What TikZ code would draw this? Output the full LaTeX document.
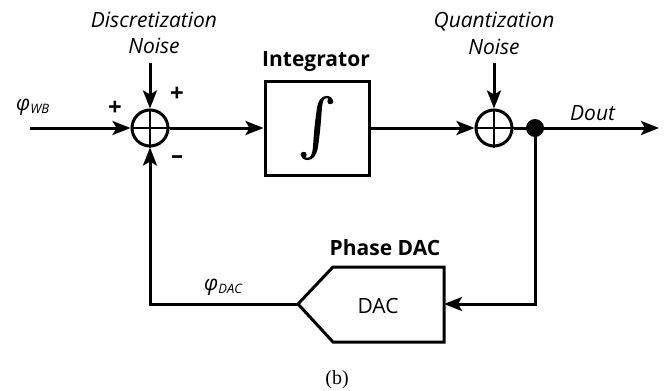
\documentclass[tikz,border=0pt]{standalone}
\usepackage{fontspec}
\setmainfont{Open Sans}
\newfontfamily\capfont{Liberation Serif}
\newfontfamily\intf{Latin Modern Math}[FakeBold=2]
\usetikzlibrary{arrows.meta}
\tikzset{
  sumc/.style={circle, draw, minimum size=36pt, inner sep=0pt, line width=3pt},
  conn/.style={line width=3pt},
  lbl/.style={font=\fontsize{21}{26}\selectfont\itshape},
  blbl/.style={font=\fontsize{21}{24}\selectfont\bfseries, inner sep=1pt},
  sgn/.style={font=\fontsize{24}{24}\selectfont\bfseries},
}
\begin{document}
\begin{tikzpicture}[x=1pt,y=-1pt, >={Stealth[length=18pt,width=14pt,inset=4pt]}]
\useasboundingbox (0,0) rectangle (667,391);
% summing junctions
\node[sumc] (s1) at (150,128) {};
\draw[line width=2.6pt] (s1.north) -- (s1.south) (s1.west) -- (s1.east);
\node[sumc] (s2) at (494,128) {};
\draw[line width=2.6pt] (s2.north) -- (s2.south) (s2.west) -- (s2.east);
% integrator
\node[draw, line width=3pt, minimum width=104pt, minimum height=94pt, inner sep=0pt] (int) at (317,128) {\resizebox*{!}{63pt}{\intf ∫}};
\node[blbl, anchor=base] (intl) at (316,66) {Integrator};
% dot
\node[circle, fill, minimum size=18pt, inner sep=0pt] (dot) at (535,128) {};
% DAC
\coordinate (dacR) at (444,304);
\coordinate (dacL) at (298,304);
\draw[line width=3pt, line join=miter] (444,267) -- (333,267) -- (dacL) -- (333,342) -- (444,342) -- cycle;
\node[font=\fontsize{21}{21}\selectfont, anchor=base] (dact) at (378,313) {DAC};
\node[blbl, anchor=base] (dacl) at (385,255) {Phase DAC};
% coordinates
\coordinate (in) at (30,128);
\coordinate (n1) at (150,63);
\coordinate (n2) at (494,63);
\coordinate (out) at (659,128);
% connectors
\draw[conn,->] (in) -- (s1.west);
\draw[conn,->] (n1) -- (s1.north);
\draw[conn,->] (s1.east) -- (int.west);
\draw[conn,->] (int.east) -- (s2.west);
\draw[conn,->] (n2) -- (s2.north);
\draw[conn] (s2.east) -- (dot.center);
\draw[conn,->] (dot.center) -- (out);
\draw[conn,->] (dot.center) |- (dacR);
\draw[conn,->] (dacL) -| (s1.south);
% labels
\node[lbl, anchor=base] (dn) at (154,27) {Discretization};
\node[lbl, anchor=base] (dn2) at (154,53) {Noise};
\node[lbl, anchor=base] (qn) at (494,27) {Quantization};
\node[lbl, anchor=base] (qn2) at (494,54) {Noise};
\node[lbl, anchor=base west, inner sep=0pt] (dout) at (570,120) {Dout};
\node[anchor=base west, inner sep=0pt] (pwb) at (16,110) {{\itshape\fontsize{21}{21}\selectfont φ}\raisebox{-0.6ex}{\fontsize{13}{13}\selectfont\itshape WB}};
\node[anchor=base west, inner sep=0pt] (pdac) at (204,290) {{\itshape\fontsize{21}{21}\selectfont φ}\raisebox{-0.6ex}{\fontsize{13}{13}\selectfont\itshape DAC}};
\node[sgn] (p1) at (115,108) {+};
\node[sgn] (p2) at (177,94) {+};
\node[sgn] (m1) at (177,160) {–};
\node[font=\capfont\fontsize{20}{20}\selectfont] (cap) at (337,380) {(b)};
\end{tikzpicture}
\end{document}
